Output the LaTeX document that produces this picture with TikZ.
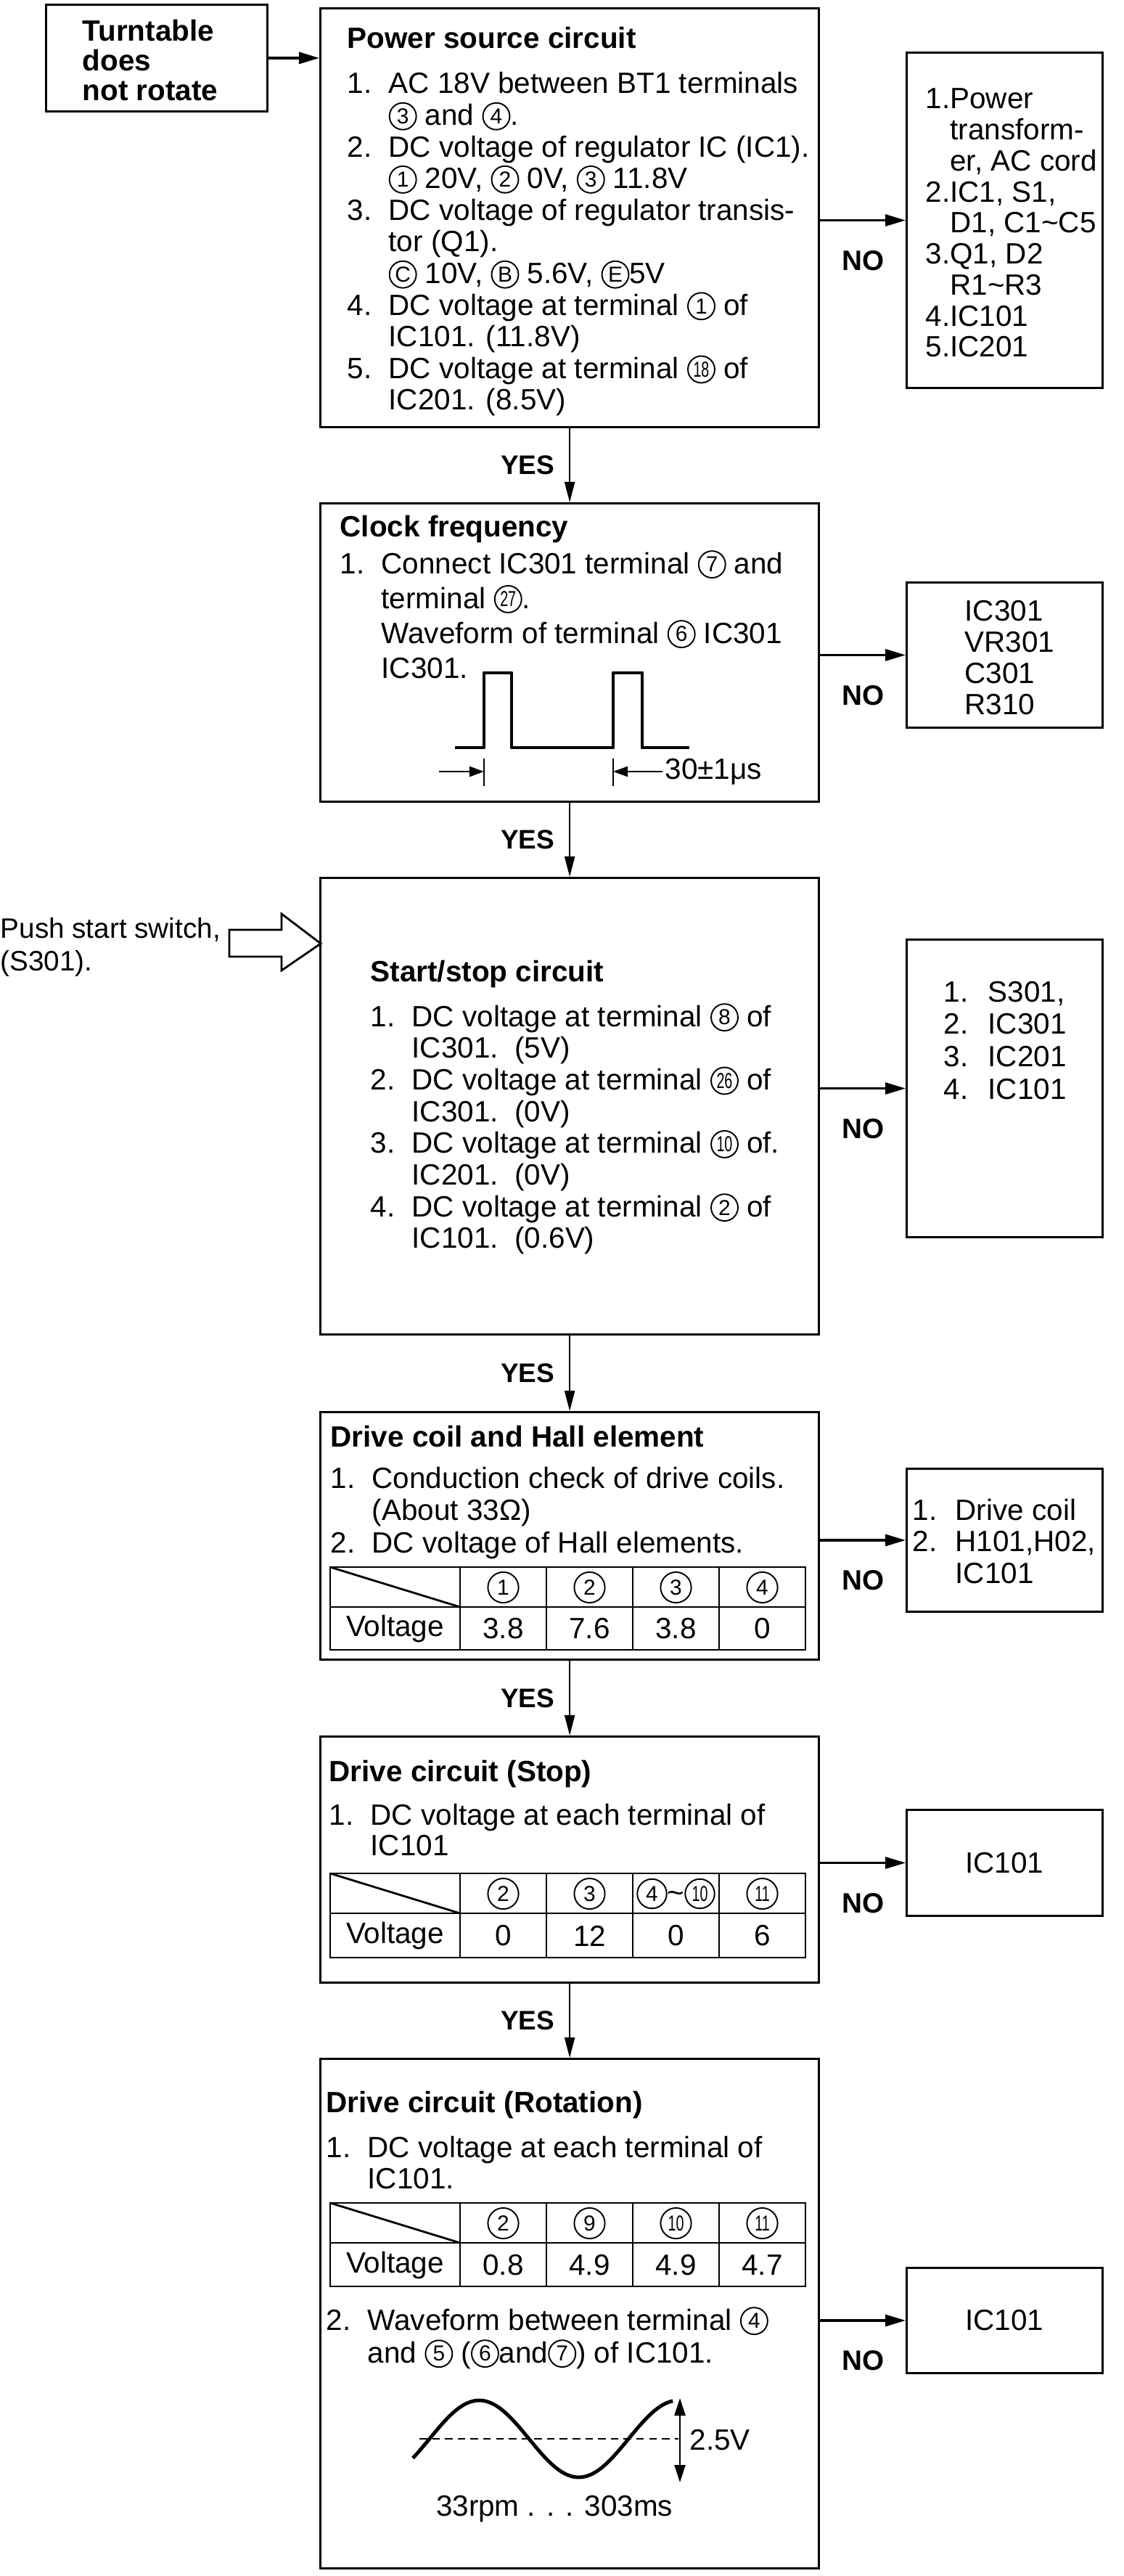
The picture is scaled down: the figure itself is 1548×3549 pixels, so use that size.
\documentclass[tikz,border=0pt]{standalone}
\usepackage{fontspec}
\setmainfont{Liberation Sans}
\usepackage{graphicx}
\usepackage{tikz}
\usetikzlibrary{arrows.meta}

\newcommand\cnum[2][10.5pt]{\tikz[baseline={([yshift=-0.6pt]cnc.base)}]\node[draw,circle,line width=0.55pt,inner sep=0pt,minimum size=#1,font=\fontsize{8.5}{8.5}\selectfont](cnc){#2};}
\newcommand\cnumm[2][10.5pt]{\cnum[#1]{\scalebox{0.66}[1]{#2}}}
\newcommand\inum[1]{\makebox[0.57cm][l]{#1}}

\begin{document}
\begin{tikzpicture}[x=0.01cm,y=-0.01cm,
  box/.style={draw,line width=0.8pt,inner sep=0pt,anchor=north west},
  txt/.style={anchor=base west,inner sep=0pt,font=\fontsize{11.5}{13}\selectfont},
  ttl/.style={anchor=base west,inner sep=0pt,font=\fontsize{11.5}{13}\selectfont\bfseries},
  cell/.style={inner sep=0pt,font=\fontsize{11.5}{13}\selectfont},
  tab/.style={line width=0.8pt},
  yesarr/.style={line width=0.6pt,-{Triangle[length=2.8mm,width=1.4mm]}},
  noarr/.style={line width=0.9pt,-{Triangle[length=2.8mm,width=1.6mm]}},
  yeslbl/.style={left=2mm,inner sep=0pt,font=\fontsize{10.5}{12}\selectfont\bfseries},
  nolbl/.style={below=4mm,inner sep=0pt,font=\fontsize{11}{12}\selectfont\bfseries},
  wave/.style={line width=1.4pt,line join=round}]

\useasboundingbox (0,0) rectangle (1548,3549);

\node[box,minimum width=3.05cm,minimum height=1.47cm] (tt) at (62,5) {};
\node[anchor=north west,align=left,inner sep=0pt,font=\fontsize{11.5}{11.6}\selectfont\bfseries] (ttt) at (113,27)
  {Turntable\\does\\not rotate};

% power source
\node[box,minimum width=6.87cm,minimum height=5.77cm] (pw) at (440,10) {};
\node[ttl] (pwt) at (478,67) {Power source circuit};
\foreach \row [count=\i from 0] in {
  {\inum{1.}AC 18V between BT1 terminals},
  {\inum{}\cnum{3} and \cnum{4}.},
  {\inum{2.}DC voltage of regulator IC (IC1).},
  {\inum{}\cnum{1} 20V, \cnum{2} 0V, \cnum{3} 11.8V},
  {\inum{3.}DC voltage of regulator transis-},
  {\inum{}tor (Q1).},
  {\inum{}\cnum{C} 10V, \cnum{B} 5.6V, \cnum{E}5V},
  {\inum{4.}DC voltage at terminal \cnum{1} of},
  {\inum{}IC101. (11.8V)},
  {\inum{5.}DC voltage at terminal \cnumm{18} of},
  {\inum{}IC201. (8.5V)}}
  \node[txt] (pw\i) at (478,129+43.6*\i) {\row};

\node[box,minimum width=2.70cm,minimum height=4.62cm] (r1) at (1248,71) {};
\foreach \row [count=\i from 0] in {
  {1.Power},{\phantom{1.}transform-},{\phantom{1.}er, AC cord},
  {2.IC1, S1,},{\phantom{2.}D1, C1\textasciitilde C5},
  {3.Q1, D2},{\phantom{3.}R1\textasciitilde R3},
  {4.IC101},{5.IC201}}
  \node[txt] (r1\i) at (1275,150+42.75*\i) {\row};

\draw[noarr] (tt.east) -- (tt.east -| pw.west);
\draw[noarr] (pw.east |- r1.west) -- node[nolbl] (no1) {NO} (r1.west);

% clock
\node[box,minimum width=6.87cm,minimum height=4.11cm] (clk) at (440,692) {};
\node[ttl] (clkt) at (468,739) {Clock frequency};
\foreach \row [count=\i from 0] in {
  {\inum{1.}Connect IC301 terminal \cnum{7} and},
  {\inum{}terminal \cnumm{27}.},
  {\inum{}Waveform of terminal \cnum{6} IC301},
  {\inum{}IC301.}}
  \node[txt] (clk\i) at (468,790+48*\i) {\row};
\draw[wave] (627,1030) -- (667,1030) -- (667,927) -- (705,927) -- (705,1030)
  -- (845,1030) -- (845,927) -- (885,927) -- (885,1030) -- (950,1030);
\draw[line width=0.6pt] (667,1045) -- (667,1083) (845,1045) -- (845,1083);
\draw[line width=0.7pt,-{Triangle[length=2mm,width=1.4mm]}] (605,1063) -- (667,1063);
\draw[line width=0.7pt,-{Triangle[length=2mm,width=1.4mm]}] (913,1063) -- (845,1063);
\node[txt,anchor=west] (clkd) at (916,1063) {30±1μs};

\node[box,minimum width=2.70cm,minimum height=2.00cm] (r2) at (1248,801) {};
\foreach \row [count=\i from 0] in {IC301,VR301,C301,R310}
  \node[txt] (r2\i) at (1329,855+43.3*\i) {\row};

\draw[yesarr] (pw) -- node[yeslbl] (yes1) {YES} (clk);
\draw[noarr] (clk.east |- r2.west) -- node[nolbl] (no2) {NO} (r2.west);

% start / stop
\node[box,minimum width=6.87cm,minimum height=6.29cm] (st) at (440,1208) {};
\node[ttl] (stt) at (510,1352) {Start/stop circuit};
\foreach \row [count=\i from 0] in {
  {\inum{1.}DC voltage at terminal \cnum{8} of},
  {\inum{}IC301.\ \ (5V)},
  {\inum{2.}DC voltage at terminal \cnumm{26} of},
  {\inum{}IC301.\ \ (0V)},
  {\inum{3.}DC voltage at terminal \cnumm{10} of.},
  {\inum{}IC201.\ \ (0V)},
  {\inum{4.}DC voltage at terminal \cnum{2} of},
  {\inum{}IC101.\ \ (0.6V)}}
  \node[txt] (st\i) at (510,1414+43.7*\i) {\row};
\draw[line width=0.8pt,line join=miter] (316,1281) -- (388,1281) -- (388,1259) -- (442,1300)
  -- (388,1337) -- (388,1318) -- (316,1318) -- cycle;
\node[anchor=west,align=left,inner sep=0pt,font=\fontsize{11}{12.8}\selectfont] (push) at (0,1305)
  {Push start switch,\\(S301).};

\node[box,minimum width=2.70cm,minimum height=4.10cm] (r3) at (1248,1293) {};
\foreach \row [count=\i from 1] in {{S301,},IC301,IC201,IC101}
  \node[txt] (r3\i) at (1300,1380+44.7*\i-44.7) {\makebox[0.61cm][l]{\i.}\row};

\draw[yesarr] (clk) -- node[yeslbl] (yes2) {YES} (st);
\draw[noarr] (st.east |- r3.west) -- node[nolbl] (no3) {NO} (r3.west);

% drive coil and hall element
\node[box,minimum width=6.87cm,minimum height=3.41cm] (coil) at (440,1944) {};
\node[ttl] (coilt) at (455,1993) {Drive coil and Hall element};
\foreach \row [count=\i from 0] in {
  {\inum{1.}Conduction check of drive coils.},
  {\inum{}(About 33Ω)},
  {\inum{2.}DC voltage of Hall elements.}}
  \node[txt] (coil\i) at (455,2050+44.5*\i) {\row};
\draw[tab] (455,2159) rectangle (1110,2273);
\draw[tab] (455,2214) -- (1110,2214);
\foreach \x in {634,753,872,991} \draw[tab] (\x,2159) -- (\x,2273);
\draw[tab] (455,2159) -- (634,2214);
\node[cell] (coilv) at (544.5,2244) {Voltage};
\foreach \h/\v [count=\i] in {1/3.8,2/7.6,3/3.8,4/0} {
  \node[cell] (coilh\i) at (574.5+119*\i,2187) {\cnum[12pt]{\h}};
  \node[cell] (coilv\i) at (574.5+119*\i,2244) {\v};
}

\node[box,minimum width=2.70cm,minimum height=1.97cm] (r4) at (1248,2022) {};
\foreach \row [count=\i from 0] in {
  {\makebox[0.59cm][l]{1.}Drive coil},
  {\makebox[0.59cm][l]{2.}H101,H02,},
  {\makebox[0.59cm][l]{}IC101}}
  \node[txt] (r4\i) at (1257,2094+43.5*\i) {\row};

\draw[yesarr] (st) -- node[yeslbl] (yes3) {YES} (coil);
\draw[noarr] (coil.east |- r4.west) -- node[nolbl] (no4) {NO} (r4.west);

% drive circuit stop
\node[box,minimum width=6.87cm,minimum height=3.39cm] (stp) at (440,2391) {};
\node[ttl] (stpt) at (453,2454) {Drive circuit (Stop)};
\node[txt] (stp0) at (453,2514) {\inum{1.}DC voltage at each terminal of};
\node[txt] (stp1) at (453,2556) {\inum{}IC101};
\draw[tab] (455,2581) rectangle (1110,2697);
\draw[tab] (455,2636) -- (1110,2636);
\foreach \x in {634,753,872,991} \draw[tab] (\x,2581) -- (\x,2697);
\draw[tab] (455,2581) -- (634,2636);
\node[cell] (stpv) at (544.5,2667) {Voltage};
\foreach \h/\v [count=\i] in {{\cnum[12pt]{2}}/0,{\cnum[12pt]{3}}/12,
    {\cnum[11.5pt]{4}\textasciitilde\cnumm[11.5pt]{10}}/0,{\cnumm[12pt]{11}}/6} {
  \node[cell] (stph\i) at (574.5+119*\i,2609) {\h};
  \node[cell] (stpv\i) at (574.5+119*\i,2667) {\v};
}

\node[box,minimum width=2.70cm,minimum height=1.46cm,font=\fontsize{11.5}{13}\selectfont] (r5) at (1248,2492) {IC101};

\draw[yesarr] (coil) -- node[yeslbl] (yes4) {YES} (stp);
\draw[noarr] (stp.east |- r5.west) -- node[nolbl] (no5) {NO} (r5.west);

% drive circuit rotation
\node[box,minimum width=6.87cm,minimum height=7.02cm] (rot) at (440,2835) {};
\node[ttl] (rott) at (449,2910) {Drive circuit (Rotation)};
\node[txt] (rot0) at (449,2972) {\inum{1.}DC voltage at each terminal of};
\node[txt] (rot1) at (449,3015) {\inum{}IC101.};
\draw[tab] (455,3035) rectangle (1110,3150);
\draw[tab] (455,3090) -- (1110,3090);
\foreach \x in {634,753,872,991} \draw[tab] (\x,3035) -- (\x,3150);
\draw[tab] (455,3035) -- (634,3090);
\node[cell] (rotv) at (544.5,3121) {Voltage};
\foreach \h/\v [count=\i] in {{\cnum[12pt]{2}}/0.8,{\cnum[12pt]{9}}/4.9,
    {\cnumm[12pt]{10}}/4.9,{\cnumm[12pt]{11}}/4.7} {
  \node[cell] (roth\i) at (574.5+119*\i,3063) {\h};
  \node[cell] (rotv\i) at (574.5+119*\i,3121) {\v};
}
\node[txt] (rot2) at (449,3210) {\inum{2.}Waveform between terminal \cnum{4}};
\node[txt] (rot3) at (449,3255) {\inum{}and \cnum{5} (\cnum{6}and\cnum{7}) of IC101.};
\draw[line width=0.4pt,dash pattern=on 3pt off 2pt] (578,3360) -- (935,3360);
\draw[wave] plot[domain=-30:440,samples=90,smooth] ({569+0.762*(\x+30)},{3360-53*sin(\x)});
\draw[line width=0.7pt,{Triangle[length=2.4mm,width=1.5mm]}-{Triangle[length=2.4mm,width=1.5mm]}]
  (937,3304) -- (937,3420);
\node[txt,anchor=west] (rotamp) at (950,3362) {2.5V};
\node[cell] (rotper) at (764,3457) {33rpm . . . 303ms};

\node[box,minimum width=2.70cm,minimum height=1.45cm,font=\fontsize{11.5}{13}\selectfont] (r6) at (1248,3123) {IC101};

\draw[yesarr] (stp) -- node[yeslbl] (yes5) {YES} (rot);
\draw[noarr] (rot.east |- r6.west) -- node[nolbl] (no6) {NO} (r6.west);
\end{tikzpicture}
\end{document}
